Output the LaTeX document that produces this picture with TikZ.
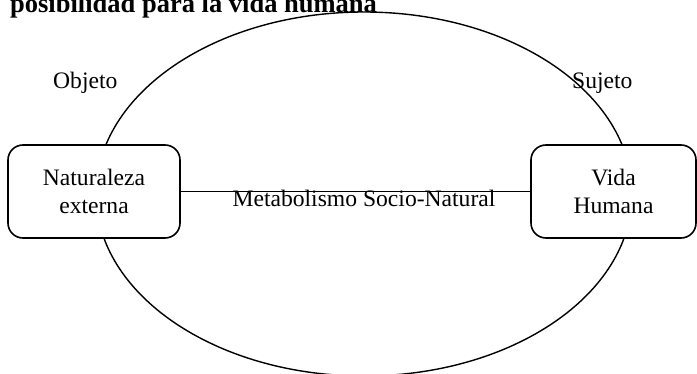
\documentclass[tikz,border=0pt]{standalone}
\usepackage{fontspec}
\setmainfont{Liberation Serif}
\begin{document}
\begin{tikzpicture}[x=1pt,y=-1pt,
  lbl/.style={font=\fontsize{23.6}{28}\selectfont, inner sep=0pt},
  boxnode/.style={draw, line width=1.6pt, rounded corners=15pt, fill=white,
    align=center, inner sep=0pt, font=\fontsize{23.6}{28}\selectfont},
  cycle line/.style={line width=1.4pt},
  link/.style={line width=1.3pt}]
\useasboundingbox (0,0) rectangle (697,374);
% heading, partly above the page
\node[anchor=base west, inner sep=0pt, font=\fontsize{26.5}{30}\selectfont\bfseries]
  (title) at (10,13) {posibilidad para la vida humana};
% the socio-natural cycle
\draw[cycle line] (364,194) ellipse [x radius=268, y radius=182];
% the two poles
\node[boxnode, minimum width=172pt, minimum height=93pt] (nat) at (94,191.5)
  {Naturaleza\\externa};
\node[boxnode, minimum width=165pt, minimum height=93pt] (vida) at (613.5,191.5)
  {Vida\\Humana};
\draw[link] (nat.east) -- (vida.west);
\node[lbl, anchor=base] (meta) at (364,207) {Metabolismo Socio-Natural};
\node[lbl, anchor=base west] (obj) at (53,89) {Objeto};
\node[lbl, anchor=base west] (suj) at (572,89) {Sujeto};
\end{tikzpicture}
\end{document}
